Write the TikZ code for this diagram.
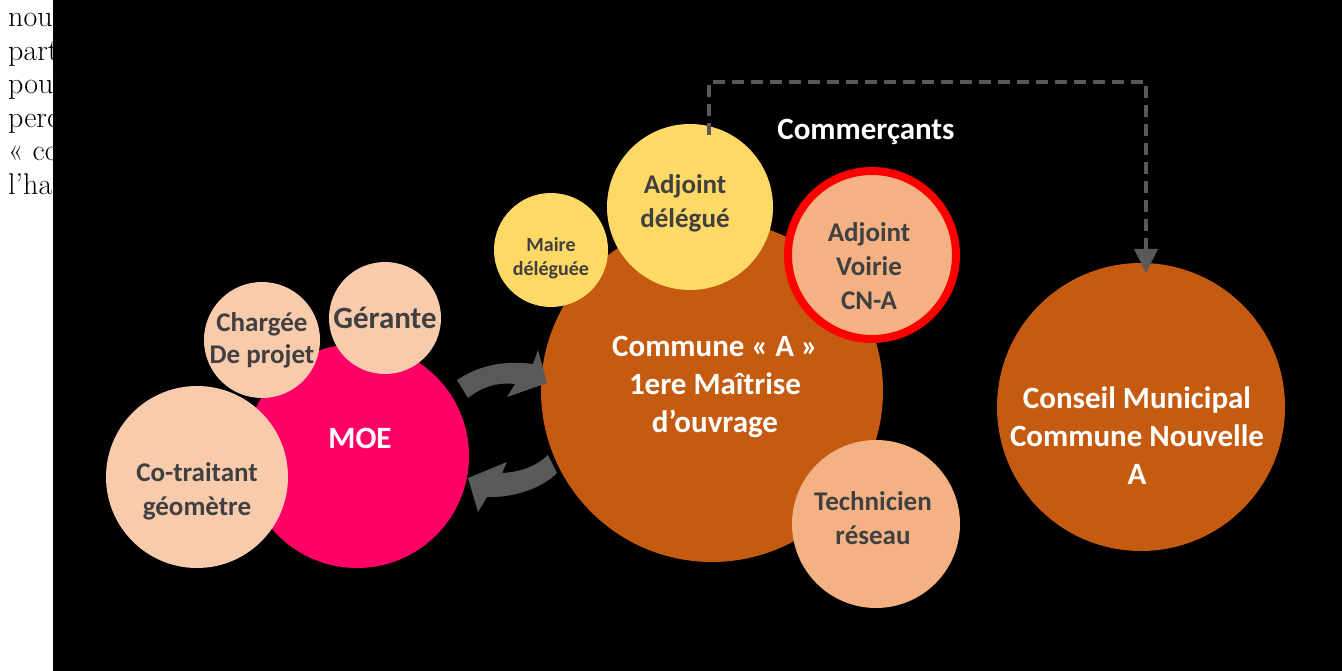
\documentclass[tikz,border=0pt]{standalone}
\usepackage{fontspec}
\newfontfamily\calib{Carlito}
\usetikzlibrary{arrows.meta}

\definecolor{moepink}{HTML}{FF0066}
\definecolor{peach}{HTML}{F8CBAD}
\definecolor{rust}{HTML}{C55A11}
\definecolor{salmon}{HTML}{F4B183}
\definecolor{sun}{HTML}{FFD966}
\definecolor{ink}{HTML}{404040}
\definecolor{flowgray}{HTML}{595959}

\tikzset{
  bubble/.style={circle, inner sep=0pt, outer sep=0pt, minimum size=#1},
  txt/.style={align=center, text=ink, font=\calib\bfseries\fontsize{27}{34}\selectfont},
  wtxt/.style={align=center, text=white, font=\calib\bfseries\fontsize{31}{38}\selectfont},
  dashlink/.style={draw=flowgray, line width=4pt, dash pattern=on 12pt off 7pt,
    -{Triangle[width=23pt, length=24pt]}},
  swirl/.style={fill=flowgray}
}

\begin{document}
\begin{tikzpicture}[x=1pt, y=-1pt]
  \useasboundingbox (0,0) rectangle (1342,671);

  % bout de texte de la page
  \foreach \ligne [count=\i] in {nou, part, pou, perc, {\guillemotleft\ co}, l’hab}
    \node[anchor=base west, inner sep=0pt, font=\fontsize{30}{33}\selectfont] (txt\i) at (8,{27+33.5*(\i-1)}) {\ligne};
  \fill[black] (53,0) rectangle (1342,671);

  % groupe MOE
  \node[bubble=224pt, fill=moepink, label={[wtxt, xshift=3pt, yshift=18pt]center:MOE}] (moe) at (357,456) {};
  \node[bubble=182pt, fill=peach, label={[txt, yshift=-14pt]center:Co-traitant\\g\'eom\`etre}] (geo) at (197,477) {};
  \node[bubble=116pt, fill=peach, label={[txt, font=\calib\bfseries\fontsize{27}{32}\selectfont]center:Charg\'ee\\De projet}] (cdp) at (262,340) {};
  \node[bubble=112pt, fill=peach, label={[txt, font=\calib\bfseries\fontsize{31}{34}\selectfont]center:G\'erante}] (ger) at (385,318) {};

  % groupe commune
  \node[bubble=342pt, fill=rust, label={[wtxt, xshift=3pt, yshift=4pt]center:Commune \guillemotleft\ A \guillemotright\\1ere Ma\^itrise\\d’ouvrage}] (com) at (712,391) {};
  \node[bubble=114pt, fill=sun, label={[txt, yshift=-8pt, font=\calib\bfseries\fontsize{20}{24}\selectfont]center:Maire\\d\'el\'egu\'ee}] (maire) at (551,250) {};
  \node[bubble=166pt, fill=sun, label={[txt, xshift=-5pt, yshift=4pt]center:Adjoint\\d\'el\'egu\'e}] (deleg) at (690,207) {};
  \node[bubble=168pt, fill=salmon, draw=red, line width=8pt, label={[txt, xshift=-3pt, yshift=-11pt]center:Adjoint\\Voirie\\CN-A}] (voirie) at (872,255) {};
  \node[bubble=168pt, fill=salmon, label={[txt, xshift=-3pt, yshift=6pt]center:Technicien\\r\'eseau}] (tech) at (876,524) {};

  \node[bubble=288pt, fill=rust, label={[wtxt, xshift=-4pt, yshift=-29pt]center:Conseil Municipal\\Commune Nouvelle\\A}] (conseil) at (1141,407) {};

  \node[text=white, font=\calib\bfseries\fontsize{31}{36}\selectfont] (comm) at (866,132) {Commer\c{c}ants};

  \draw[dashlink] ([xshift=19pt, yshift=72pt]deleg.center) -- ++(0,-53) -| ([xshift=5pt, yshift=-10pt]conseil.north);

  % fleches d'echange MOE <-> commune
  \fill[swirl] (457,380) .. controls (478,366) and (503,360) .. (533,364) -- (538,350) -- (547,383)
    -- (507,397) -- (515,384) .. controls (497,382) and (482,387) .. (468,398) -- cycle;
  \fill[swirl] (548,455) .. controls (535,467) and (520,472) .. (502,473) -- (507,462) -- (468,478)
    -- (478,512) -- (487,497) .. controls (510,498) and (540,490) .. (557,473) -- cycle;
\end{tikzpicture}
\end{document}
